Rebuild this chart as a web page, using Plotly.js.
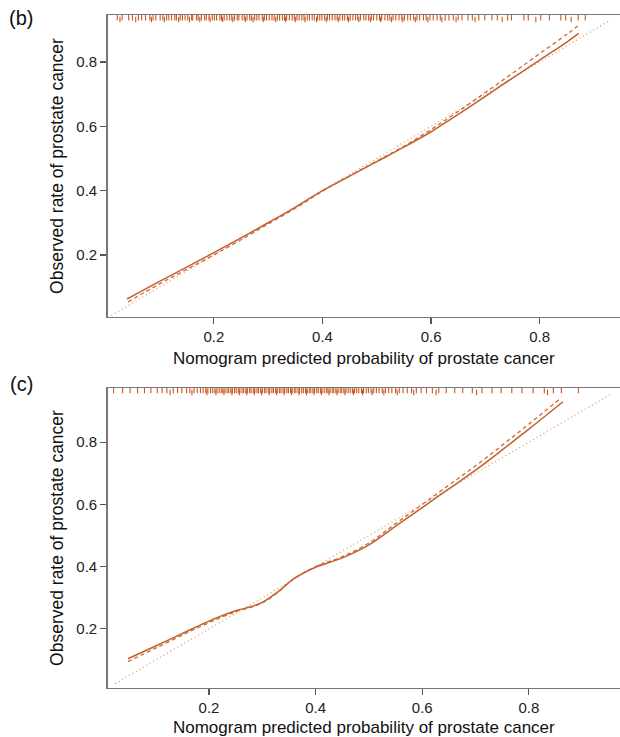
<!DOCTYPE html>
<html>
<head>
<meta charset="utf-8">
<script src="https://cdn.plot.ly/plotly-3.0.1.min.js"></script>
<style>
html,body{margin:0;padding:0;background:#fff;overflow:hidden;}
#chart{width:620px;height:737px;}
</style>
</head>
<body>
<div id="chart"></div>
<script>
// ---------- Panel (b) ----------
const bSolidX = [0.040,0.10,0.15,0.20,0.25,0.30,0.35,0.40,0.45,0.50,0.55,0.60,0.65,0.70,0.75,0.80,0.85,0.872];
const bSolidY = [0.063,0.118,0.162,0.207,0.253,0.300,0.348,0.400,0.445,0.490,0.535,0.583,0.637,0.693,0.750,0.806,0.862,0.889];
const bDashX  = [0.042,0.10,0.15,0.20,0.25,0.30,0.35,0.40,0.45,0.50,0.55,0.60,0.65,0.70,0.75,0.80,0.85,0.870];
const bDashY  = [0.054,0.110,0.155,0.200,0.247,0.296,0.345,0.398,0.446,0.492,0.538,0.590,0.646,0.705,0.765,0.826,0.886,0.912];
const bIdealX = [0.005,0.931];
const bIdealY = [0.005,0.931];
const bRugX = [0.022,0.031,0.043,0.050,0.061,0.067,0.074,0.082,0.088,0.093,0.101,0.106,0.113,0.117,0.122,0.128,0.131,0.138,0.142,0.147,0.152,0.159,0.161,0.168,0.171,0.177,0.183,0.186,0.191,0.197,0.201,0.205,0.211,0.214,0.219,0.224,0.229,0.233,0.238,0.243,0.246,0.252,0.256,0.261,0.266,0.269,0.275,0.279,0.283,0.289,0.293,0.297,0.302,0.307,0.311,0.317,0.321,0.326,0.330,0.334,0.339,0.344,0.348,0.353,0.357,0.362,0.366,0.372,0.376,0.381,0.385,0.391,0.395,0.399,0.404,0.409,0.413,0.418,0.423,0.427,0.432,0.437,0.441,0.446,0.451,0.456,0.461,0.465,0.470,0.476,0.480,0.485,0.490,0.494,0.500,0.505,0.509,0.515,0.520,0.524,0.530,0.535,0.541,0.546,0.551,0.557,0.562,0.568,0.574,0.579,0.586,0.591,0.598,0.604,0.611,0.617,0.626,0.633,0.641,0.650,0.657,0.668,0.676,0.688,0.699,0.712,0.722,0.741,0.748,0.771,0.779,0.802,0.818,0.839,0.848,0.871,0.884];
const bRugX2 = [0.027,0.056,0.085,0.109,0.135,0.155,0.174,0.193,0.216,0.235,0.258,0.272,0.291,0.314,0.332,0.350,0.368,0.389,0.407,0.429,0.448,0.467,0.488,0.507,0.527,0.548,0.571,0.594,0.620,0.646,0.681,0.731,0.793,0.858];

// ---------- Panel (c) ----------
const cSolidX = [0.048,0.10,0.15,0.20,0.25,0.28,0.30,0.33,0.36,0.40,0.45,0.50,0.55,0.60,0.65,0.70,0.75,0.80,0.864];
const cSolidY = [0.104,0.145,0.185,0.225,0.258,0.272,0.285,0.320,0.362,0.398,0.428,0.470,0.530,0.590,0.650,0.710,0.775,0.842,0.930];
const cDashX  = [0.048,0.10,0.15,0.20,0.25,0.28,0.30,0.33,0.36,0.40,0.45,0.50,0.55,0.60,0.65,0.70,0.75,0.80,0.861];
const cDashY  = [0.095,0.138,0.180,0.220,0.255,0.270,0.283,0.318,0.362,0.400,0.432,0.476,0.538,0.600,0.662,0.724,0.790,0.858,0.943];
const cIdealX = [0.024,0.956];
const cIdealY = [0.024,0.956];
const cRugX = [0.021,0.038,0.052,0.066,0.079,0.091,0.103,0.112,0.121,0.133,0.141,0.149,0.158,0.164,0.172,0.178,0.184,0.189,0.194,0.198,0.203,0.207,0.211,0.215,0.219,0.223,0.226,0.230,0.234,0.237,0.241,0.244,0.248,0.251,0.255,0.258,0.262,0.265,0.269,0.272,0.276,0.279,0.283,0.286,0.290,0.293,0.297,0.300,0.304,0.307,0.311,0.314,0.318,0.321,0.325,0.328,0.332,0.335,0.339,0.342,0.346,0.349,0.353,0.356,0.360,0.363,0.367,0.370,0.374,0.377,0.381,0.384,0.388,0.391,0.395,0.398,0.402,0.405,0.409,0.412,0.416,0.420,0.423,0.427,0.431,0.434,0.438,0.442,0.446,0.449,0.453,0.457,0.461,0.465,0.469,0.473,0.477,0.481,0.486,0.490,0.495,0.499,0.504,0.509,0.514,0.519,0.525,0.531,0.537,0.543,0.550,0.557,0.564,0.572,0.580,0.589,0.598,0.608,0.619,0.631,0.645,0.661,0.676,0.694,0.712,0.731,0.748,0.768,0.787,0.808,0.829,0.846,0.861,0.893];
const cRugX2 = [0.127,0.168,0.196,0.213,0.228,0.243,0.257,0.271,0.285,0.299,0.313,0.327,0.341,0.355,0.369,0.383,0.397,0.411,0.425,0.440,0.455,0.471,0.488,0.506,0.528,0.553,0.584,0.626,0.702,0.835];

const cSolid = '#c45f2c';
const cDash  = '#c8693a';
const cDot   = '#e39058';
const rugCol = '#c8581e';

function rugY(arr, v){ return arr.map(function(){ return v; }); }
function rug(xs, yv, xa, ya){
  return {x:xs, y:rugY(xs,yv), xaxis:xa, yaxis:ya, mode:'markers',
    marker:{symbol:'line-ns-open', size:4, color:rugCol, line:{color:rugCol, width:1.1}}};
}

const traces = [
  {x:bIdealX, y:bIdealY, xaxis:'x', yaxis:'y', mode:'lines', line:{color:cDot, width:1.2, dash:'1px,3px'}},
  {x:bSolidX, y:bSolidY, xaxis:'x', yaxis:'y', mode:'lines', line:{color:cSolid, width:1.5, shape:'spline'}},
  {x:bDashX, y:bDashY, xaxis:'x', yaxis:'y', mode:'lines', line:{color:cDash, width:1.3, dash:'4px,3px', shape:'spline'}},
  rug(bRugX, 0.938, 'x', 'y'),
  rug(bRugX2, 0.932, 'x', 'y'),
  {x:cIdealX, y:cIdealY, xaxis:'x2', yaxis:'y2', mode:'lines', line:{color:cDot, width:1.2, dash:'1px,3px'}},
  {x:cSolidX, y:cSolidY, xaxis:'x2', yaxis:'y2', mode:'lines', line:{color:cSolid, width:1.5, shape:'spline'}},
  {x:cDashX, y:cDashY, xaxis:'x2', yaxis:'y2', mode:'lines', line:{color:cDash, width:1.3, dash:'4px,3px', shape:'spline'}},
  rug(cRugX, 0.966, 'x2', 'y2'),
  rug(cRugX2, 0.960, 'x2', 'y2')
];

const F = 'Liberation Sans, Arial, Helvetica, sans-serif';
const tickVals = [0.2,0.4,0.6,0.8];
const tickText = ['0.2','0.4','0.6','0.8'];
function xax(range, domain, anchor){
  return {range:range, domain:domain, anchor:anchor, tickvals:tickVals, ticktext:tickText,
    ticks:'outside', ticklen:6, tickwidth:1.2, tickcolor:'#555', showline:true, linecolor:'#777', linewidth:1.5,
    mirror:true, showgrid:false, zeroline:false, automargin:false,
    tickfont:{family:F, size:15, color:'#222'},
    title:{text:'Nomogram predicted probability of prostate cancer', font:{family:F, size:17, color:'#111'}, standoff:7}};
}
function yax(range, domain, anchor){
  return {range:range, domain:domain, anchor:anchor, tickvals:tickVals, ticktext:tickText,
    ticks:'outside', ticklen:6, tickwidth:1.2, tickcolor:'#555', showline:true, linecolor:'#777', linewidth:1.5,
    mirror:false, showgrid:false, zeroline:false, automargin:false,
    tickfont:{family:F, size:15, color:'#222'},
    title:{text:'Observed rate of prostate cancer', font:{family:F, size:17.5, color:'#111'}, standoff:8}};
}

const layout = {
  width:620, height:737,
  margin:{l:0, r:0, t:0, b:0},
  paper_bgcolor:'#fff', plot_bgcolor:'#fff',
  showlegend:false,
  xaxis: xax([0.0044,0.948],[0.1737,1],'y'),
  yaxis: yax([0.007,0.946],[0.5699,0.9796],'x'),
  xaxis2: xax([0.010,0.971],[0.1737,1],'y2'),
  yaxis2: yax([0.010,0.974],[0.0665,0.4735],'x2'),
  annotations:[
    {text:'(b)', xref:'paper', yref:'paper', x:0.034, y:0.975, xanchor:'center', yanchor:'middle', showarrow:false, font:{family:F, size:20, color:'#111'}},
    {text:'(c)', xref:'paper', yref:'paper', x:0.034, y:0.479, xanchor:'center', yanchor:'middle', showarrow:false, font:{family:F, size:20, color:'#111'}}
  ]
};

Plotly.newPlot('chart', traces, layout, {displayModeBar:false, staticPlot:true});
</script>
</body>
</html>
